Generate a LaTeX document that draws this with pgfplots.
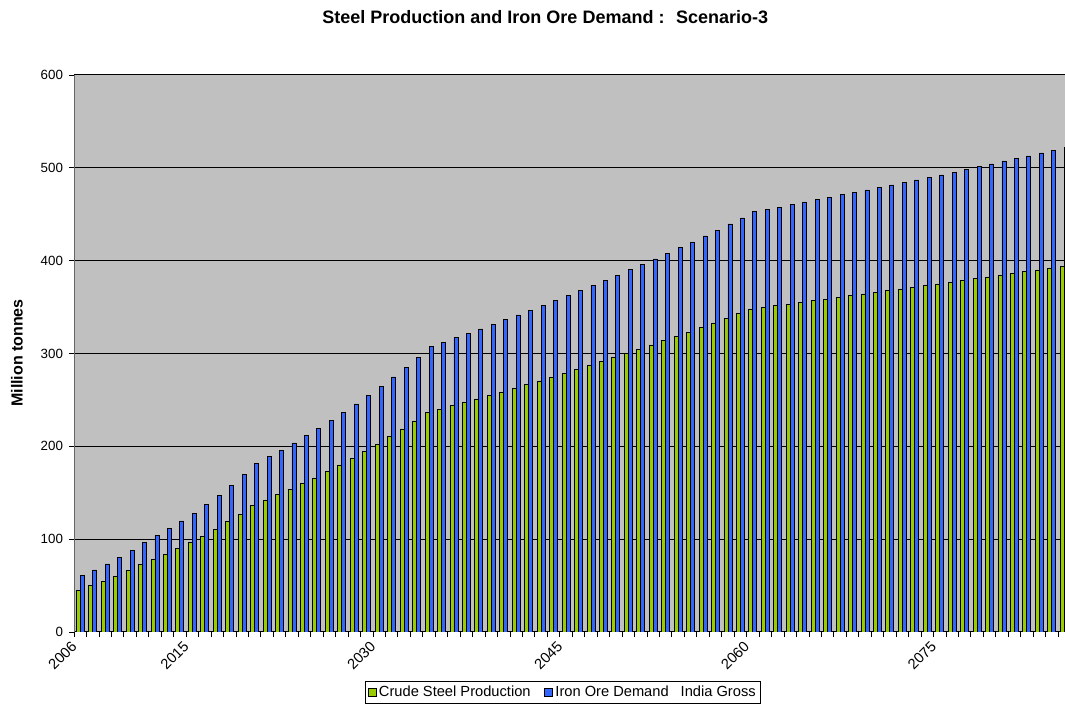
\documentclass[border=0pt]{standalone}
\usepackage{pgfplots}
\usepackage{pgfplotstable}
\pgfplotsset{compat=1.18}
\usepackage{fontspec}
\setmainfont{Liberation Sans}
\definecolor{bggray}{RGB}{192,192,192}
\definecolor{steelgreen}{RGB}{153,204,0}
\definecolor{oreblue}{RGB}{51,102,255}

\pgfplotstableread{
x g b
0 45.2 61.0
1 49.9 66.8
2 54.2 73.3
3 60.0 80.4
4 66.0 88.0
5 72.5 96.6
6 77.9 103.8
7 83.3 111.3
8 89.8 119.6
9 96.2 127.9
10 103.1 137.5
11 110.6 147.3
12 118.8 158.0
13 127.1 169.9
14 136.5 182.0
15 142.2 189.0
16 148.0 196.0
17 154.0 203.6
18 160.0 211.5
19 165.9 219.4
20 172.7 227.6
21 179.9 236.3
22 186.7 245.6
23 194.2 255.0
24 202.2 264.7
25 210.4 274.7
26 218.7 285.1
27 227.3 296.2
28 236.6 307.3
29 240.2 312.1
30 243.8 317.1
31 247.5 321.4
32 251.0 326.4
33 254.6 331.4
34 258.5 336.4
35 262.1 341.5
36 266.4 346.5
37 270.4 351.5
38 274.4 356.9
39 278.7 362.3
40 282.6 367.7
41 286.9 373.0
42 291.2 378.8
43 295.5 384.2
44 299.8 390.3
45 304.1 396.0
46 309.2 401.8
47 313.8 407.5
48 318.1 414.0
49 322.8 420.1
50 327.8 426.6
51 332.9 433.0
52 337.5 439.5
53 342.9 446.0
54 348.0 452.8
55 349.8 455.3
56 351.5 457.8
57 353.3 460.7
58 355.1 463.2
59 356.9 465.7
60 358.4 468.3
61 360.6 471.0
62 362.5 473.3
63 364.1 476.2
64 365.9 479.0
65 367.7 481.5
66 369.5 484.4
67 371.3 486.9
68 373.1 489.8
69 374.9 492.3
70 377.0 495.5
71 378.9 498.4
72 380.6 501.3
73 382.4 504.2
74 384.6 507.4
75 386.4 509.9
76 388.1 512.8
77 390.0 516.0
78 392.1 518.5
79 393.9 522.1
}\datatable

\begin{document}
\begin{tikzpicture}
\useasboundingbox (0,0) rectangle (798.75pt,542.25pt);
\begin{axis}[
  at={(55.5pt,68.25pt)}, anchor=south west,
  scale only axis,
  width=743.25pt, height=417.75pt,
  ybar=0pt, bar width=3pt,
  xmin=-0.5, xmax=79.06,
  ymin=0, ymax=600,
  enlargelimits=false,
  axis x line=bottom, axis y line=left,
  axis line style={-, line width=0.75pt},
  y axis line style={draw=black!60},
  axis background/.style={fill=bggray},
  ymajorgrids, major grid style={black, line width=0.75pt},
  ytick={0,100,...,600},
  xtick={-0.5,0.5,...,78.5},
  xticklabels={},
  tick align=outside,
  major tick length=3.75pt,
  tick style={black, line width=0.6pt},
  extra x ticks={0,9,24,39,54,69},
  extra x tick labels={2006,2015,2030,2045,2060,2075},
  extra x tick style={major tick length=0pt,
    xticklabel style={rotate=45, anchor=north east, inner sep=1pt, yshift=2pt, xshift=-8.5pt,
      font=\fontsize{11}{13}\selectfont}},
  /pgf/number format/assume math mode=true,
  yticklabel style={font=\fontsize{10}{12}\selectfont, xshift=-1pt},
  legend style={at={(0.4934,-0.1086)}, anchor=center, draw=black, line width=0.5pt,
    font=\fontsize{11}{13}\selectfont, inner sep=1.5pt, legend columns=2,
    /tikz/every even column/.append style={column sep=8pt}},
  legend image code/.code={\draw[#1, draw=black, line width=0.6pt] (0pt,-2.8pt) rectangle (6pt,3.2pt);},
]
\addplot[fill=steelgreen, draw=black, line width=0.6pt] table[x=x, y=g] {\datatable};
\addplot[fill=oreblue, draw=black, line width=0.6pt] table[x=x, y=b] {\datatable};
\legend{Crude Steel Production, Iron Ore Demand\hspace{9pt}India Gross}
\end{axis}
\node[font=\bfseries\fontsize{13.5}{15}\selectfont] at (409pt,529.5pt) {Steel Production and Iron Ore Demand :~ Scenario-3};
\node[font=\bfseries\fontsize{12}{14}\selectfont, rotate=90] at (12.75pt,277.5pt) {Million tonnes};
\end{tikzpicture}
\end{document}
